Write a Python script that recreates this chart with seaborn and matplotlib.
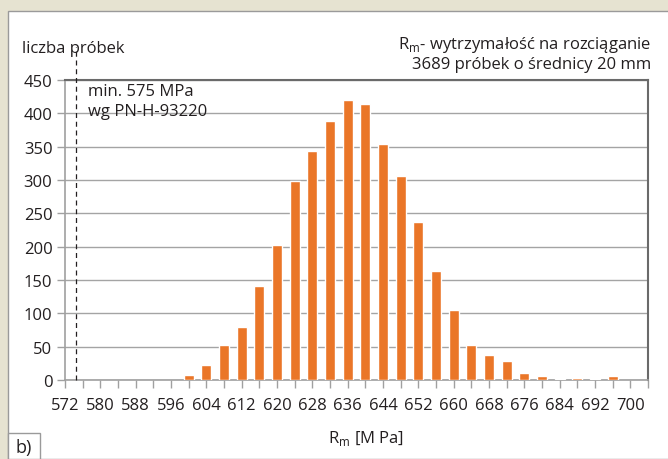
import numpy as np
import pandas as pd
import matplotlib
matplotlib.use("Agg")
import matplotlib.pyplot as plt
import seaborn as sns
from matplotlib.patches import Rectangle

# data
rm_values = [600, 604, 608, 612, 616, 620, 624, 628, 632, 636, 640, 644, 648,
             652, 656, 660, 664, 668, 672, 676, 680, 684, 688, 692, 696]
counts = [8, 23, 53, 80, 141, 203, 298, 344, 389, 420, 414, 354, 306,
          237, 164, 105, 53, 37, 28, 10, 6, 2, 3, 2, 6]
x_tick_labels = list(range(572, 701, 8))
y_ticks = list(range(0, 451, 50))
min_limit = 574.6

sns.set_theme(style="white")
plt.rcParams['font.family'] = ['Open Sans', 'DejaVu Sans']

FS = 12
W, H = 668, 460
fig = plt.figure(figsize=(W / 100, H / 100), dpi=100)
fig.patch.set_facecolor("#E6E3D1")
# white panel
fig.patches.append(Rectangle((8 / W, 0), 1, (H - 12) / H, transform=fig.transFigure,
                             facecolor="white", edgecolor="#9a9a9a", linewidth=1.0, zorder=-10))
# b) box
fig.patches.append(Rectangle((8 / W, 0), 32 / W, 26 / H, transform=fig.transFigure,
                             facecolor="white", edgecolor="#9a9a9a", linewidth=1.0, zorder=-5))
fig.text(24 / W, 12 / H, "b)", ha="center", va="center", fontsize=13, color="#231f20")

ax = fig.add_axes([65 / W, 1 - 381 / H, (648 - 65) / W, (381 - 81) / H])
ax.set_facecolor("none")
ax.set_zorder(2)

df = pd.DataFrame({"rm": rm_values, "count": counts})
sns.barplot(data=df, x="rm", y="count", native_scale=True, width=0.57,
            color="#EA7628", saturation=1, ax=ax, zorder=3)

ax.set_xlim(572, 704)
ax.set_ylim(0, 450)
ax.set_xticks(list(range(572, 705, 4)))
ax.set_xticklabels([str(v) if v in x_tick_labels else "" for v in range(572, 705, 4)])
ax.set_yticks(y_ticks)
ax.set_yticklabels([str(v) for v in y_ticks])
ax.tick_params(axis="both", labelsize=FS, colors="#231f20", length=0)
ax.tick_params(axis="x", length=6, width=1, color="#a0a0a0", direction="out", pad=6, bottom=True)
ax.tick_params(axis="y", length=6, width=1, color="#a0a0a0", direction="out", pad=3, left=True)
for lab in ax.get_xticklabels() + ax.get_yticklabels():
    lab.set_color("#231f20")

ax.yaxis.grid(True, color="#a4a4a4", linewidth=1.0, zorder=1)
ax.set_axisbelow(True)
for s in ["left", "bottom"]:
    ax.spines[s].set_color("#a0a0a0")
    ax.spines[s].set_linewidth(1.2)
for s in ["top", "right"]:
    ax.spines[s].set_color("#6a6a6a")
    ax.spines[s].set_linewidth(1.5)

ax.set_xlabel("")
ax.set_ylabel("")

# dashed min line
ax.plot([min_limit, min_limit], [0, 500], linestyle=(0, (4, 3)), color="#231f20", linewidth=0.9,
        clip_on=False, zorder=4)

ax.text(577.3, 445, "min. 575 MPa", ha="left", va="top", fontsize=FS, color="#231f20")
ax.text(577.3, 415, "wg PN-H-93220", ha="left", va="top", fontsize=FS, color="#231f20")

fig.text(22 / W, 1 - 53 / H, "liczba próbek", ha="left", va="baseline", fontsize=FS, color="#231f20")
fig.text(651 / W, 1 - 49 / H, "R$_\\mathregular{m}$- wytrzymałość na rozciąganie", ha="right",
         va="baseline", fontsize=FS, color="#231f20")
fig.text(651 / W, 1 - 69 / H, "3689 próbek o średnicy 20 mm", ha="right", va="baseline",
         fontsize=FS, color="#231f20")
fig.text(366 / W, 1 - 443 / H, "R$_\\mathregular{m}$ [M Pa]", ha="center", va="baseline",
         fontsize=FS, color="#231f20")

fig.savefig("out.png", dpi=100, facecolor=fig.get_facecolor())
